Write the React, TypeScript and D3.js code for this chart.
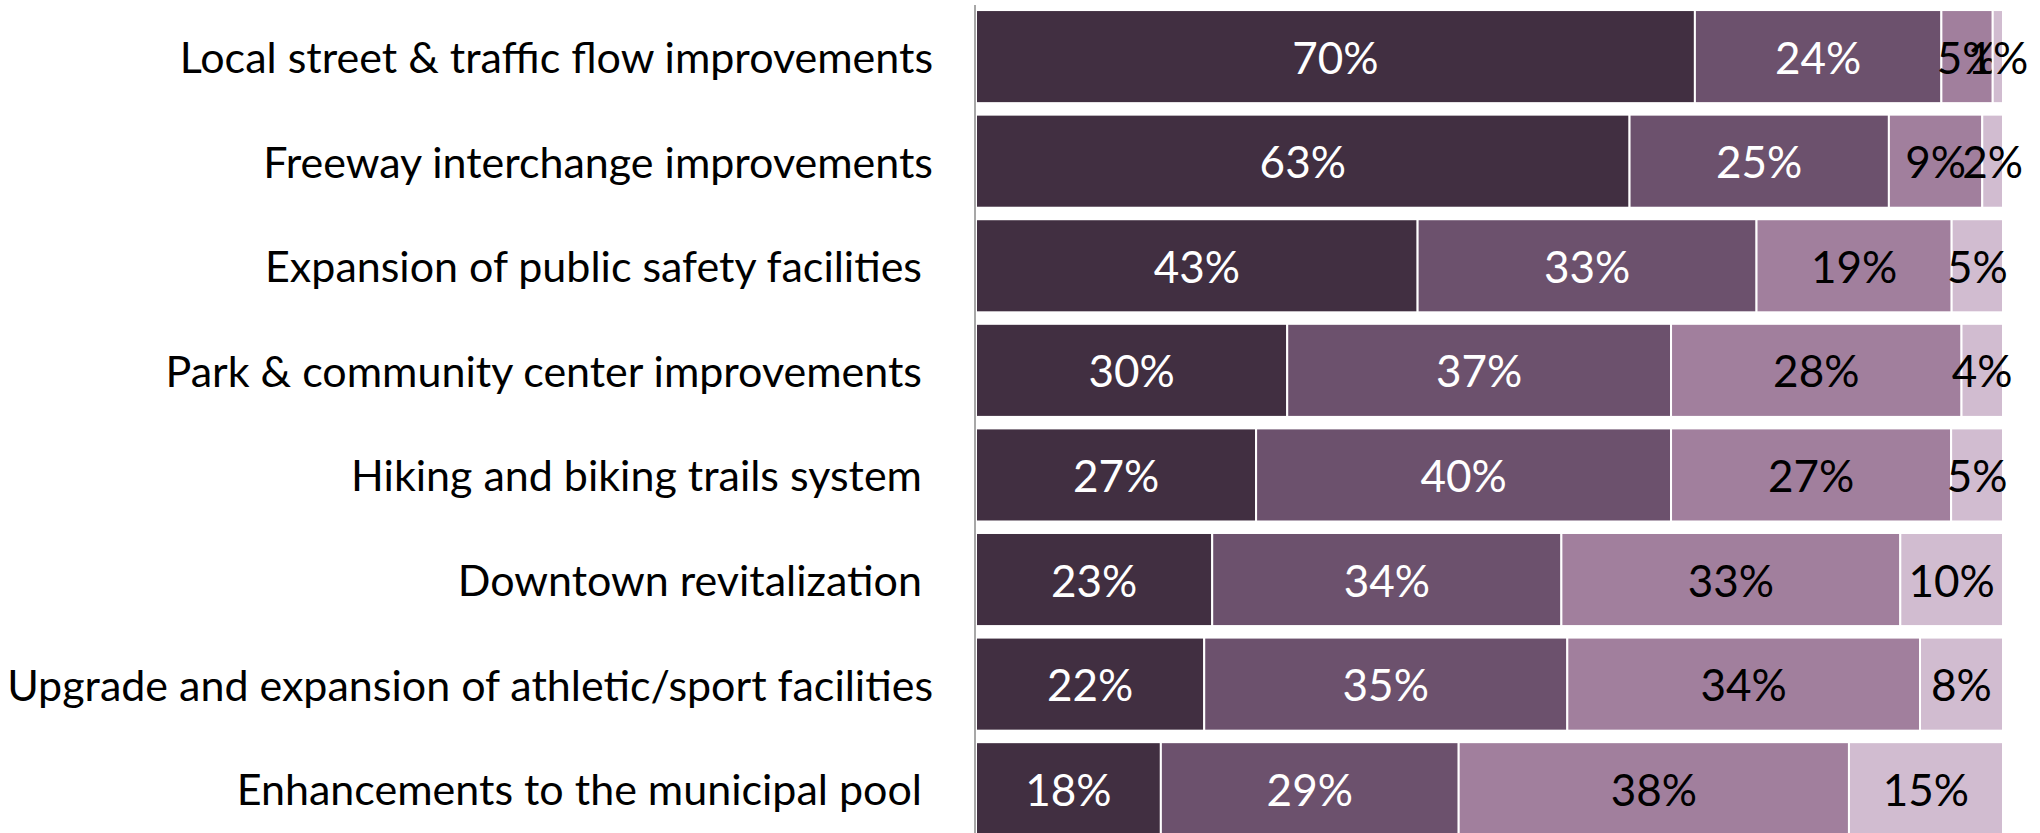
import * as d3 from "d3";
import { useEffect, useRef } from "react";

// survey categories, top to bottom (trailing spaces kept as in source)
const categories = [
	"Local street & traffic flow improvements",
	"Freeway interchange improvements",
	"Expansion of public safety facilities ",
	"Park & community center improvements ",
	"Hiking and biking trails system ",
	"Downtown revitalization ",
	"Upgrade and expansion of athletic/sport facilities",
	"Enhancements to the municipal pool ",
];

const seriesKeys = ["s1", "s2", "s3", "s4"];
const s1 = [70, 63, 43, 30, 27, 23, 22, 18];
const s2 = [24, 25, 33, 37, 40, 34, 35, 29];
const s3 = [5, 9, 19, 28, 27, 33, 34, 38];
const s4 = [1, 2, 5, 4, 5, 10, 8, 15];

const colors = ["#412f41", "#6c516d", "#a17f9d", "#d1bcd0"];
const textColors = ["#ffffff", "#ffffff", "#000000", "#000000"];

const W = 2040;
const H = 833;
const FONT = "Lato, 'Open Sans', sans-serif";

export default function App() {
	const ref = useRef<SVGSVGElement>(null);

	useEffect(() => {
		const svg = d3.select(ref.current);
		svg.selectAll("*").remove();

		const rows = categories.map((c, i) => ({
			cat: c,
			s1: s1[i],
			s2: s2[i],
			s3: s3[i],
			s4: s4[i],
		}));

		// 100% stacked, rows that round to 99 still fill the width
		const stack = d3.stack<any>().keys(seriesKeys).offset(d3.stackOffsetExpand);
		const layers = stack(rows);

		const x = d3.scaleLinear().domain([0, 1]).range([976, 2003]);
		const y = d3
			.scaleBand()
			.domain(categories)
			.range([4.3, 841])
			.paddingInner(0.11)
			.paddingOuter(0.055);

		const g = svg.append("g");

		layers.forEach((layer, li) => {
			const lg = g.append("g");
			lg.selectAll("rect")
				.data(layer)
				.enter()
				.append("rect")
				.attr("x", (d) => x(d[0]))
				.attr("y", (d) => y(d.data.cat)!)
				.attr("width", (d) => x(d[1]) - x(d[0]))
				.attr("height", y.bandwidth())
				.attr("fill", colors[li])
				.attr("stroke", "#ffffff")
				.attr("stroke-width", 2);

			lg.selectAll("text")
				.data(layer)
				.enter()
				.append("text")
				.attr("x", (d) => (x(d[0]) + x(d[1])) / 2)
				.attr("y", (d) => y(d.data.cat)! + y.bandwidth() / 2)
				.attr("text-anchor", "middle")
				.attr("dominant-baseline", "central")
				.attr("fill", textColors[li])
				.attr("font-family", FONT)
				.attr("font-size", 44)
				.text((d) => d.data[seriesKeys[li]] + "%");
		});

		// vertical axis line
		g.append("line")
			.attr("x1", 975)
			.attr("x2", 975)
			.attr("y1", 5)
			.attr("y2", H)
			.attr("stroke", "#8a8a8a")
			.attr("stroke-width", 1.5);

		g.selectAll("text.cat")
			.data(categories)
			.enter()
			.append("text")
			.attr("class", "cat")
			.attr("x", 933)
			.attr("y", (d) => y(d)! + y.bandwidth() / 2)
			.attr("text-anchor", "end")
			.attr("dominant-baseline", "central")
			.attr("fill", "#000000")
			.attr("font-family", FONT)
			.attr("font-size", 43)
			.style("white-space", "pre")
			.text((d) => d);
	}, []);

	return (
		<div style={{ position: "absolute", left: 0, top: 0, background: "#fff" }}>
			<svg ref={ref} width={W} height={H}></svg>
		</div>
	);
}
